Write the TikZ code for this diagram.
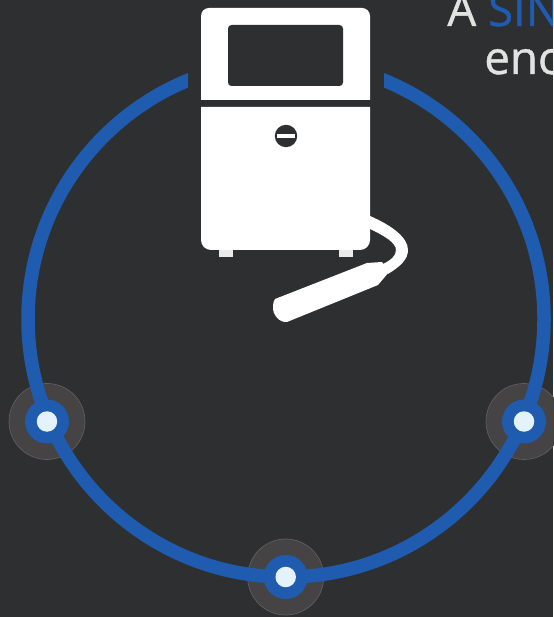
\documentclass[tikz,border=0pt]{standalone}
\usepackage{fontspec}
\setmainfont{Open Sans}
\usepackage{xcolor}
\definecolor{sfondo}{HTML}{2D2F30}
\definecolor{anello}{HTML}{1F5BAE}
\definecolor{alone}{HTML}{454344}
\definecolor{perno}{HTML}{E4F3FB}
\definecolor{testo}{HTML}{E2E2E0}
\tikzset{
  halo/.style={circle, fill=alone, draw=white!14!alone, line width=0.4pt, minimum size=1.52cm, inner sep=0pt},
  disco/.style={circle, fill=anello, minimum size=0.88cm, inner sep=0pt},
  perno/.style={circle, fill=perno, minimum size=0.41cm, inner sep=0pt},
  titolo/.style={anchor=base west, inner sep=0pt, font=\fontsize{26}{26}\selectfont\addfontfeature{FakeBold=0.9}}
}
\begin{document}
\begin{tikzpicture}[x=0.02cm, y=-0.02cm]
\useasboundingbox (0,0) rectangle (553,617);
% Sfondo
\fill[sfondo] (0,0) rectangle (553,617);
% Testo tagliato dal bordo
\begin{scope}
\clip (0,0) rectangle (553,617);
\node[titolo, text=testo] (riga1) at (447,26) {A \textcolor{anello}{SIN}};
\node[titolo, text=testo] (riga2) at (484,74) {enc};
\end{scope}
% Aloni
\node[halo] (haloL) at (47,421.5) {};
\node[halo] (haloR) at (524,421.5) {};
\node[halo] (haloB) at (285.7,577) {};
% Anello, aperto in alto
\begin{scope}
\clip (0,0) rectangle (188,617) (384,0) rectangle (553,617) (188,200) rectangle (384,617);
\draw[anello, line width=0.27cm] (286,319) circle (258);
\end{scope}
% Punti
\node[disco] (discoL) at (47,421.5) {};
\node[disco] (discoR) at (524,421.5) {};
\node[disco] (discoB) at (285.7,577) {};
\node[perno] (pernoL) at (47,421.5) {};
\node[perno] (pernoR) at (524,421.5) {};
\node[perno] (pernoB) at (285.7,577) {};
% Corpo stampante
\fill[white] (201,100) -- (201,16) arc[start angle=180, end angle=270, radius=8] -- (362,8) arc[start angle=270, end angle=360, radius=8] -- (370,100) -- cycle;
\fill[white] (201,107) -- (370,107) -- (370,240) arc[start angle=0, end angle=90, radius=10] -- (211,250) arc[start angle=90, end angle=180, radius=10] -- cycle;
\fill[sfondo, rounded corners=2] (228,25) rectangle (343,86);
% Manopola
\fill[sfondo] (286,136) circle (11.2);
\fill[white] (277,134.5) rectangle (295,138);
% Piedini
\fill[white!90!sfondo] (219,250) rectangle (233,257);
\fill[white!90!sfondo] (339,250) rectangle (353,257);
% Tubo
\fill[white] (370,216) .. controls (393,226) and (408,238) .. (408,250) .. controls (408,259) and (401,266) .. (388,274) -- (383,264) .. controls (391,260) and (396,256) .. (396,250) .. controls (396,243) and (385,236) .. (370,229) -- cycle;
% Penna
\fill[white] (275,299) -- (367,263) -- (382,262) -- (389,272) -- (378,285) -- (287,322) .. controls (280,323) and (272,315) .. (273,306) .. controls (273,303) and (274,300) .. (275,299) -- cycle;
\end{tikzpicture}
\end{document}
